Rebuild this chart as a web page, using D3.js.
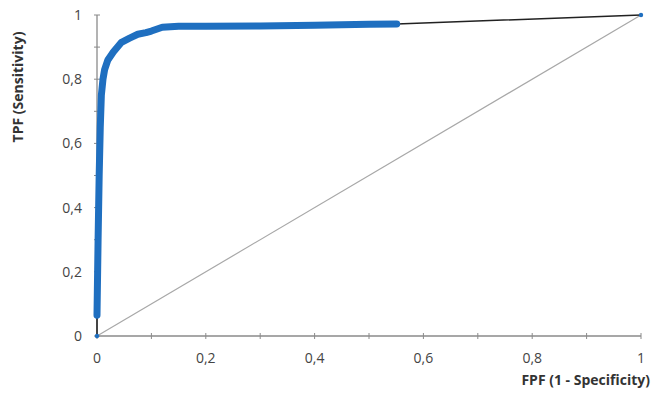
<!DOCTYPE html>
<html>
<head>
<meta charset="utf-8">
<script src="https://cdn.jsdelivr.net/npm/d3@7"></script>
<style>
  body { margin: 0; background: #fff; }
  svg text { font-family: "Open Sans", "Liberation Sans", sans-serif; }
</style>
</head>
<body>
<div id="chart"></div>
<script>
// ROC curve points (thick blue part)
const fpf = [0, 0.002, 0.004, 0.006, 0.008, 0.011, 0.014, 0.02, 0.03, 0.045, 0.06, 0.075, 0.09, 0.1, 0.12, 0.15, 0.2, 0.3, 0.4, 0.5, 0.551];
const tpf = [0.065, 0.3, 0.5, 0.65, 0.75, 0.8, 0.83, 0.86, 0.885, 0.915, 0.928, 0.94, 0.945, 0.95, 0.962, 0.965, 0.965, 0.966, 0.968, 0.971, 0.972];
// thin black ends of the curve
const startPoint = [0, 0];
const endPoint = [1, 1];
const xTicks = [0, 0.2, 0.4, 0.6, 0.8, 1];
const yTicks = [0, 0.2, 0.4, 0.6, 0.8, 1];
const minorTicks = [0, 0.1, 0.2, 0.3, 0.4, 0.5, 0.6, 0.7, 0.8, 0.9, 1];

const width = 659, height = 405;
const margin = {top: 15, right: 18, bottom: 69, left: 97};

const svg = d3.select('#chart').append('svg')
  .attr('width', width)
  .attr('height', height);

const x = d3.scaleLinear().domain([0, 1]).range([margin.left, width - margin.right]);
const y = d3.scaleLinear().domain([0, 1]).range([height - margin.bottom, margin.top]);

const fmt = d => String(d).replace('.', ',');
const axisColor = '#8a8a8a';

// axes lines
svg.append('line')
  .attr('x1', x(0)).attr('x2', x(1))
  .attr('y1', y(0)).attr('y2', y(0))
  .attr('stroke', axisColor).attr('stroke-width', 1.3);
svg.append('line')
  .attr('x1', x(0)).attr('x2', x(0))
  .attr('y1', y(0)).attr('y2', y(1))
  .attr('stroke', axisColor).attr('stroke-width', 1.3);

// minor / major tick marks
svg.selectAll('.xtick').data(minorTicks).enter().append('line')
  .attr('x1', d => x(d)).attr('x2', d => x(d))
  .attr('y1', y(0) - 3).attr('y2', y(0) + 3)
  .attr('stroke', axisColor);
svg.selectAll('.ytick').data(minorTicks).enter().append('line')
  .attr('x1', x(0) - 3).attr('x2', x(0) + 3)
  .attr('y1', d => y(d)).attr('y2', d => y(d))
  .attr('stroke', axisColor);

// tick labels
svg.selectAll('.xlab').data(xTicks).enter().append('text')
  .attr('x', d => x(d)).attr('y', y(0) + 27)
  .attr('text-anchor', 'middle')
  .attr('font-size', 14).attr('fill', '#444')
  .text(fmt);
svg.selectAll('.ylab').data(yTicks).enter().append('text')
  .attr('x', x(0) - 15).attr('y', d => y(d) + 5)
  .attr('text-anchor', 'end')
  .attr('font-size', 14).attr('fill', '#444')
  .text(fmt);

// axis titles
svg.append('text')
  .attr('transform', 'translate(23,' + 87 + ') rotate(-90)')
  .attr('text-anchor', 'middle')
  .attr('font-size', 14).attr('font-weight', 'bold').attr('fill', '#333')
  .text('TPF (Sensitivity)');
svg.append('text')
  .attr('x', 650).attr('y', 385)
  .attr('text-anchor', 'end')
  .attr('font-size', 14).attr('font-weight', 'bold').attr('fill', '#333')
  .text('FPF (1 - Specificity)');

// chance diagonal
svg.append('line')
  .attr('x1', x(0)).attr('y1', y(0))
  .attr('x2', x(1)).attr('y2', y(1))
  .attr('stroke', '#a8a8a8').attr('stroke-width', 1.2);

// full curve, thin black
const line = d3.line().x(d => x(d[0])).y(d => y(d[1]));
const full = [startPoint].concat(fpf.map((f, i) => [f, tpf[i]])).concat([endPoint]);
svg.append('path')
  .attr('d', line(full))
  .attr('fill', 'none').attr('stroke', '#222').attr('stroke-width', 1.5);

// thick blue part
svg.append('path')
  .attr('d', line(fpf.map((f, i) => [f, tpf[i]])))
  .attr('fill', 'none')
  .attr('stroke', '#1f6fc0')
  .attr('stroke-width', 7)
  .attr('stroke-linejoin', 'round')
  .attr('stroke-linecap', 'round');

svg.append('circle')
  .attr('cx', x(1)).attr('cy', y(1)).attr('r', 2.2)
  .attr('fill', '#1f6fc0');
svg.append('circle')
  .attr('cx', x(0)).attr('cy', y(0)).attr('r', 2.2)
  .attr('fill', '#1f6fc0');
</script>
</body>
</html>
